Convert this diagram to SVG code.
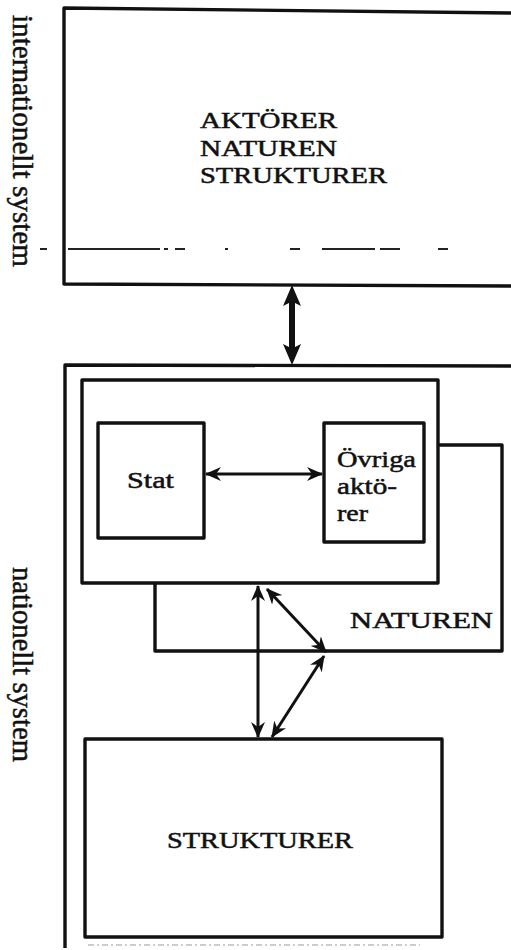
<svg xmlns="http://www.w3.org/2000/svg" width="511" height="950" viewBox="0 0 511 950">
<defs>
<style>
.box{fill:#fff;stroke:#111;stroke-width:3.4;stroke-linejoin:round}
.ln{fill:none;stroke:#111;stroke-width:3.4;stroke-linejoin:round}
.t{font-family:"Liberation Serif","Times New Roman",serif;fill:#111;stroke:#111;stroke-width:0.5}
.h{font-size:23px}
.v{font-size:29px}
.ar{fill:none;stroke:#111;stroke-width:3}
</style>
<marker id="ah" viewBox="0 0 16 14" refX="15" refY="7" markerWidth="16" markerHeight="14" markerUnits="userSpaceOnUse" orient="auto-start-reverse">
<path d="M0,0 L16,7 L0,14 L5,7 Z" fill="#111"/>
</marker>
</defs>
<rect width="511" height="950" fill="#fff"/>

<g id="international">
<path class="ln" d="M511,13 L64,8 L64,284 L511,286"/>
<path fill="none" stroke="#222" stroke-width="1.8" d="M40,249 H47 M68,249 H160 M164,249 H168 M175,249 H185 M225,249 H228 M290,249 H300 M322,249 H375 M380,249 H400 M438,249 H448"/>
<text class="t h" x="200" y="128" textLength="137" lengthAdjust="spacingAndGlyphs">AKTÖRER</text>
<text class="t h" x="200" y="156" textLength="137" lengthAdjust="spacingAndGlyphs">NATUREN</text>
<text class="t h" x="200" y="183" textLength="187" lengthAdjust="spacingAndGlyphs">STRUKTURER</text>
</g>
<text class="t v" transform="translate(13,15) rotate(90)" textLength="252" lengthAdjust="spacingAndGlyphs">internationellt system</text>

<g id="national">
<path class="ln" d="M511,366 L65,365 L65,948"/>
<path fill="none" stroke="#999" stroke-width="1" stroke-dasharray="6 3 2 3" d="M88,945 H420"/>
</g>
<text class="t v" transform="translate(13,567) rotate(90)" textLength="195" lengthAdjust="spacingAndGlyphs">nationellt system</text>

<g id="naturen">
<path class="ln" d="M438,445 H502 V651 H155 V584"/>
<text class="t h" x="350" y="628" textLength="143" lengthAdjust="spacingAndGlyphs">NATUREN</text>
</g>

<g id="aktorer">
<rect class="box" x="82" y="380" width="356" height="203"/>
</g>

<g id="stat">
<rect class="box" x="98" y="423" width="106" height="115"/>
<text class="t h" x="127" y="488" textLength="47" lengthAdjust="spacingAndGlyphs">Stat</text>
</g>

<g id="ovriga">
<rect class="box" x="324" y="423" width="100" height="119"/>
<text class="t h" x="337" y="467" textLength="79" lengthAdjust="spacingAndGlyphs">Övriga</text>
<text class="t h" x="337" y="494" textLength="60" lengthAdjust="spacingAndGlyphs">aktö-</text>
<text class="t h" x="337" y="521" textLength="31" lengthAdjust="spacingAndGlyphs">rer</text>
</g>

<g id="strukturer">
<rect class="box" x="85" y="739" width="357" height="198"/>
<text class="t h" x="167" y="848" textLength="186" lengthAdjust="spacingAndGlyphs">STRUKTURER</text>
</g>

<g id="connectors">
<rect x="289" y="300" width="6" height="50" fill="#111"/>
<path d="M292,285 L301,306 L295,303 L289,303 L283,306 Z" fill="#111"/>
<path d="M292,365 L301,344 L295,347 L289,347 L283,344 Z" fill="#111"/>
<line class="ar" x1="206" y1="474" x2="322" y2="474" marker-start="url(#ah)" marker-end="url(#ah)"/>
<line class="ar" x1="258" y1="586" x2="258" y2="737" marker-start="url(#ah)" marker-end="url(#ah)"/>
<line class="ar" x1="267" y1="589" x2="326" y2="652" marker-start="url(#ah)" marker-end="url(#ah)"/>
<line class="ar" x1="324" y1="656" x2="272" y2="737" marker-start="url(#ah)" marker-end="url(#ah)"/>
</g>
</svg>
